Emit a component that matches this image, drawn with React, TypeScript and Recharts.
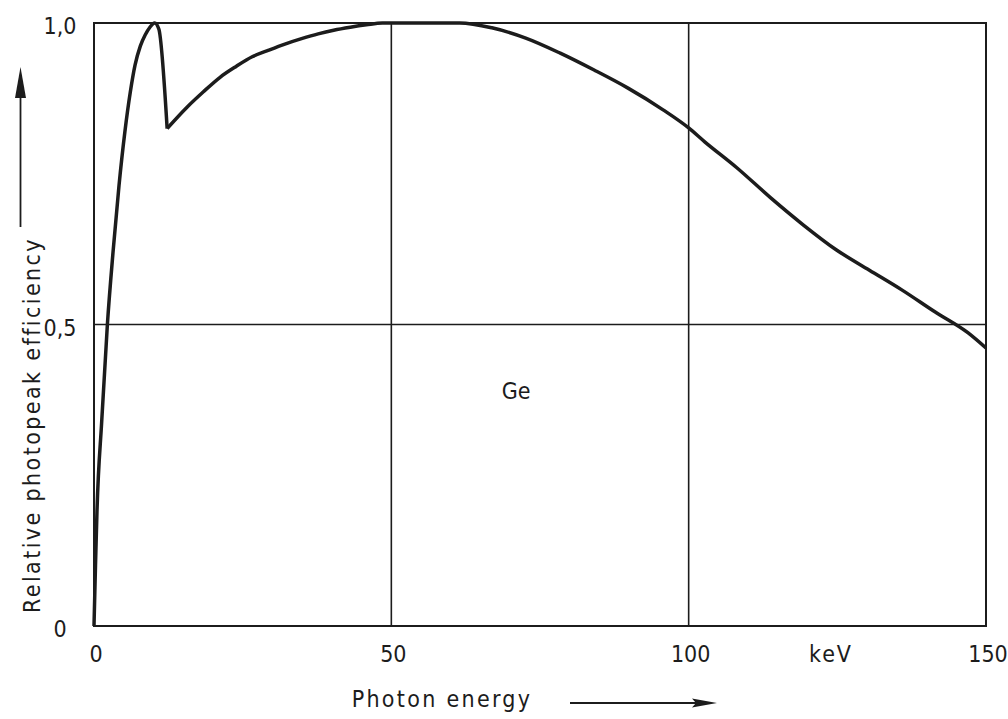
import React from 'react';
import {
  LineChart,
  Line,
  XAxis,
  YAxis,
  ReferenceLine,
  ReferenceArea,
  ReferenceDot,
} from 'recharts';

// Photon energy (keV) — below the K edge (rise, peak and edge drop)
const ENERGY_LOW = [
  0, 0.25, 0.5, 1.3, 2.25, 3.2, 4.2, 5.2, 6.1, 6.9, 7.8, 8.6, 9.4, 10.2, 10.9,
  12.3,
];
const EFFICIENCY_LOW = [
  0, 0.1, 0.19, 0.34, 0.5, 0.62, 0.73, 0.82, 0.885, 0.93, 0.962, 0.98, 0.993,
  1.0, 0.99, 0.825,
];
// Photon energy (keV) — above the K edge
const ENERGY_HIGH = [
  12.3, 15.6, 18.4, 21.2, 23.9, 26.6, 29.4, 32.1, 34.9, 37.7, 40.3, 43.1, 45.8,
  48.5, 55, 61.5, 66.9, 72.6, 78.4, 84.1, 89.8, 95.7, 100, 102.7, 108.1, 113.8,
  119.3, 124.8, 130.4, 135.9, 141.4, 147, 150,
];
const EFFICIENCY_HIGH = [
  0.825, 0.86, 0.886, 0.91, 0.928, 0.944, 0.955, 0.965, 0.974, 0.982, 0.988,
  0.993, 0.997, 1.0, 1.0, 1.0, 0.992, 0.975, 0.95, 0.922, 0.892, 0.856, 0.826,
  0.803, 0.76, 0.71, 0.665, 0.624, 0.59, 0.557, 0.521, 0.486, 0.461,
];

const X_TICKS = [0, 50, 100, 150];
const Y_TICKS = [0, 0.5, 1];
const Y_TICK_LABELS = ['0', '0,5', '1,0'];
const X_GRID = [50, 100];
const Y_GRID = [0.5];

const data = [
  ...ENERGY_LOW.map((e, i) => ({
    e,
    low: EFFICIENCY_LOW[i],
    high: i === ENERGY_LOW.length - 1 ? EFFICIENCY_HIGH[0] : null,
  })),
  ...ENERGY_HIGH.slice(1).map((e, i) => ({
    e,
    low: null,
    high: EFFICIENCY_HIGH[i + 1],
  })),
];

const INK = '#1c1c1c';
const FONT = "'DejaVu Sans Condensed', 'DejaVu Sans', sans-serif";

const XTick = (props: any) => {
  const { x, payload } = props;
  return (
    <text
      x={x + 2}
      y={654}
      textAnchor="middle"
      dominantBaseline="central"
      fontFamily={FONT}
      fontSize={23}
      fill={INK}
    >
      {String(payload.value)}
    </text>
  );
};

const YTick = (props: any) => {
  const { y, payload } = props;
  const idx = Y_TICKS.indexOf(payload.value);
  return (
    <text
      x={60}
      y={y + 3}
      textAnchor="middle"
      dominantBaseline="central"
      fontFamily={FONT}
      fontSize={23}
      fill={INK}
    >
      {Y_TICK_LABELS[idx]}
    </text>
  );
};

const XLabel = () => (
  <g>
    <text
      x={831}
      y={654}
      textAnchor="middle"
      dominantBaseline="central"
      fontFamily={FONT}
      fontSize={23}
      fill={INK}
      style={{ letterSpacing: 2 }}
    >
      keV
    </text>
    <text
      x={442}
      y={699}
      textAnchor="middle"
      dominantBaseline="central"
      fontFamily={FONT}
      fontSize={23}
      fill={INK}
      style={{ letterSpacing: 2.3 }}
    >
      Photon energy
    </text>
    <line x1={570} y1={703} x2={700} y2={703} stroke={INK} strokeWidth={1.8} />
    <polygon points="717,703 692,698.5 696,703 692,707.5" fill={INK} />
  </g>
);

const YLabel = () => (
  <g>
    <text
      x={32}
      y={425}
      textAnchor="middle"
      dominantBaseline="central"
      fontFamily={FONT}
      fontSize={23}
      fill={INK}
      transform="rotate(-90 32 425)"
      style={{ letterSpacing: 2.4 }}
    >
      Relative photopeak efficiency
    </text>
    <line x1={20.5} y1={227} x2={20.5} y2={92} stroke={INK} strokeWidth={1.8} />
    <polygon points="20.5,67 15,98 26,98" fill={INK} />
  </g>
);

export default function App() {
  return (
    <div style={{ position: 'fixed', left: 0, top: 0, background: '#fff' }}>
      <LineChart
        width={1008}
        height={719}
        data={data}
        margin={{ top: 23, right: 22, bottom: 0, left: 0 }}
      >
        <XAxis
          type="number"
          dataKey="e"
          domain={[0, 150]}
          ticks={X_TICKS}
          axisLine={false}
          tickLine={false}
          height={93}
          tick={<XTick />}
          interval={0}
          label={{ content: XLabel }}
        />
        <YAxis
          type="number"
          domain={[0, 1]}
          ticks={Y_TICKS}
          axisLine={false}
          tickLine={false}
          width={94}
          tick={<YTick />}
          interval={0}
          label={{ content: YLabel }}
        />
        {X_GRID.map((v) => (
          <ReferenceLine key={'x' + v} x={v} stroke={INK} strokeWidth={1.6} />
        ))}
        {Y_GRID.map((v) => (
          <ReferenceLine key={'y' + v} y={v} stroke={INK} strokeWidth={1.4} />
        ))}
        <ReferenceArea
          x1={0}
          x2={150}
          y1={0}
          y2={1}
          fill="none"
          fillOpacity={0}
          stroke={INK}
          strokeWidth={2}
          ifOverflow="visible"
        />
        <ReferenceDot
          x={71}
          y={0.39}
          r={0}
          fill="none"
          stroke="none"
          label={{
            value: 'Ge',
            position: 'center',
            fontFamily: FONT,
            fontSize: 23,
            fill: INK,
          }}
        />
        <Line
          type="monotone"
          dataKey="low"
          stroke={INK}
          strokeWidth={3.5}
          strokeLinejoin="round"
          dot={false}
          activeDot={false}
          isAnimationActive={false}
        />
        <Line
          type="monotone"
          dataKey="high"
          stroke={INK}
          strokeWidth={3.5}
          strokeLinejoin="round"
          dot={false}
          activeDot={false}
          isAnimationActive={false}
        />
      </LineChart>
    </div>
  );
}
